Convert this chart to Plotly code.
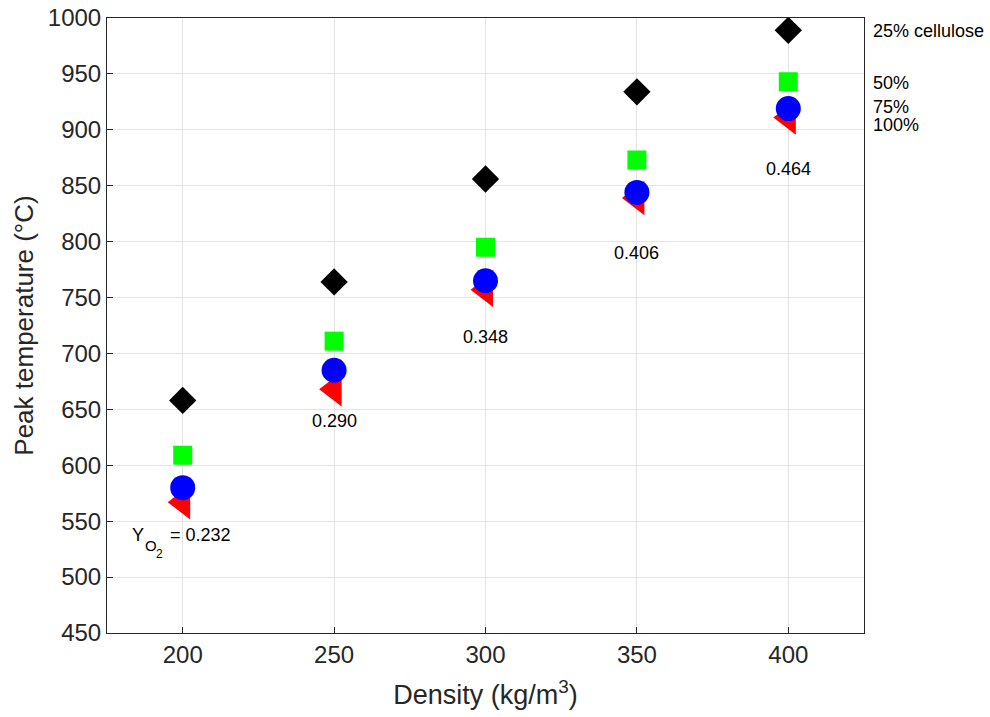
import plotly.graph_objects as go

# Density (kg/m^3) and peak temperature (°C) for each cellulose fraction
density = [200, 250, 300, 350, 400]
t_25 = [658, 764, 856, 934, 989]
t_50 = [609, 711, 795, 873, 943]
t_75 = [580, 685, 765, 844, 919]
t_100 = [567, 668, 757, 839, 911]

# Oxygen mass fraction labels under each density column
yo2_labels = ["0.232", "0.290", "0.348", "0.406", "0.464"]
yo2_label_y = [538, 640, 715, 790, 865]

# Series labels on the right-hand side
series_labels = ["25% cellulose", "50%", "75%", "100%"]
series_label_y = [988, 942, 920, 904]

FONT = "Liberation Sans, Arial, sans-serif"
ANN = 18

fig = go.Figure()

# drawn bottom-to-top so circles sit over triangles, etc.
fig.add_trace(go.Scatter(x=density, y=t_100, mode="markers",
                         marker=dict(symbol="triangle-left", size=30, color="#ff0000",
                                     line=dict(width=0))))
fig.add_trace(go.Scatter(x=density, y=t_75, mode="markers",
                         marker=dict(symbol="circle", size=25, color="#0000ff",
                                     line=dict(width=0))))
fig.add_trace(go.Scatter(x=density, y=t_50, mode="markers",
                         marker=dict(symbol="square", size=19, color="#00ff00",
                                     line=dict(width=0))))
fig.add_trace(go.Scatter(x=density, y=t_25, mode="markers",
                         marker=dict(symbol="diamond", size=21, color="#000000",
                                     line=dict(width=0))))

annotations = []


def label(x, y, text, size=ANN, xref="x", xanchor="center", xshift=0, yshift=0):
    annotations.append(dict(x=x, y=y, xref=xref, yref="y", text=text, showarrow=False,
                            font=dict(family=FONT, size=size, color="black"),
                            xanchor=xanchor, yanchor="middle",
                            xshift=xshift, yshift=yshift, borderpad=0))


# first column carries the full "Y_O2 = ..." label, built from pieces
x0, y0 = density[0], yo2_label_y[0]
label(x0, y0, "Y", xanchor="left", xshift=-52)
label(x0, y0, "O", size=15, xanchor="left", xshift=-39, yshift=-11)
label(x0, y0, "2", size=12, xanchor="left", xshift=-28, yshift=-19)
label(x0, y0, "= " + yo2_labels[0], xanchor="left", xshift=-14)

for xv, yv, lab in zip(density[1:], yo2_label_y[1:], yo2_labels[1:]):
    label(xv, yv, lab)

for lab, yv in zip(series_labels, series_label_y):
    label(1.0106, yv, lab, xref="paper", xanchor="left")

axis_common = dict(ticks="inside", ticklen=6, tickcolor="#262626",
                   showgrid=True, gridcolor="#e3e3e3", gridwidth=1,
                   showline=True, linecolor="#262626", linewidth=1, mirror=True,
                   zeroline=False, automargin=False,
                   tickfont=dict(size=24, color="#262626"))

fig.update_layout(
    width=990, height=717,
    margin=dict(l=107, r=126, t=18, b=84),
    paper_bgcolor="white", plot_bgcolor="white",
    showlegend=False,
    font=dict(family=FONT, color="#262626"),
    annotations=annotations,
    xaxis=dict(range=[175, 425], tickvals=density, **axis_common,
               title=dict(text="Density (kg/m<sup>3</sup>)", font=dict(size=27), standoff=18)),
    yaxis=dict(range=[450, 1000], dtick=50, **axis_common,
               title=dict(text="Peak temperature (°C)", font=dict(size=26), standoff=6)),
)

fig.write_html("out.html")
